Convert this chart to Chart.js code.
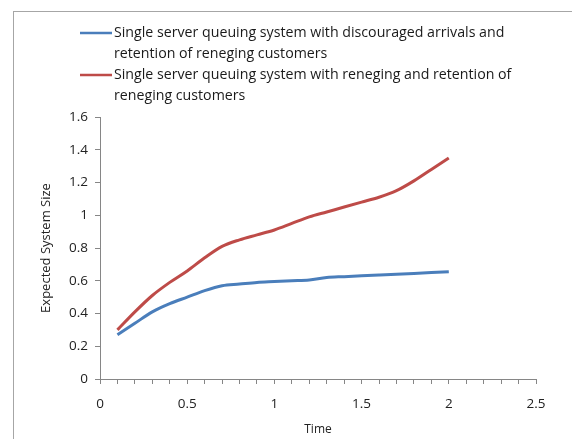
<!DOCTYPE html>
<html>
<head>
<meta charset="utf-8">
<script src="https://cdn.jsdelivr.net/npm/chart.js@4/dist/chart.umd.min.js"></script>
<style>
  html, body { margin: 0; padding: 0; background: #fff; }
  #wrap { width: 572px; height: 439px; }
</style>
</head>
<body>
<div id="wrap"><canvas id="sizeChart"></canvas></div>
<script>
const times = [0.1, 0.2, 0.3, 0.4, 0.5, 0.6, 0.7, 0.8, 0.9, 1.0,
  1.1, 1.2, 1.3, 1.4, 1.5, 1.6, 1.7, 1.8, 1.9, 2.0];

// expected system size, discouraged arrivals + retention of reneging customers
const discouragedSize = [0.27, 0.34, 0.41, 0.46, 0.50, 0.54, 0.57, 0.58, 0.59, 0.595,
  0.60, 0.605, 0.62, 0.625, 0.63, 0.635, 0.64, 0.645, 0.65, 0.655];

// expected system size, reneging + retention of reneging customers
const renegingSize = [0.30, 0.41, 0.51, 0.59, 0.66, 0.74, 0.81, 0.85, 0.88, 0.91,
  0.95, 0.99, 1.02, 1.05, 1.08, 1.11, 1.15, 1.21, 1.28, 1.35];

const seriesNames = [
  ['Single server queuing system with discouraged arrivals and', 'retention of reneging customers'],
  ['Single server queuing system with reneging and retention of', 'reneging customers']
];

const xLabels = [0, 0.5, 1, 1.5, 2, 2.5];

const axisGray = '#868686';
const font = '"Open Sans", Lato, sans-serif';

const toPoints = (ys) => ys.map((y, i) => ({ x: times[i], y: y }));

// white background plus the thin frame round the chart area
const frame = {
  id: 'frame',
  beforeDraw(chart) {
    const ctx = chart.ctx;
    ctx.save();
    ctx.fillStyle = '#fff';
    ctx.fillRect(0, 0, chart.width, chart.height);
    ctx.strokeStyle = '#a6a6a6';
    ctx.lineWidth = 1;
    ctx.strokeRect(13.5, 11.5, chart.width + 20, chart.height + 20);
    ctx.restore();
  }
};

// legend with wrapped two-line entries
const wrappedLegend = {
  id: 'wrappedLegend',
  afterDraw(chart) {
    const ctx = chart.ctx;
    ctx.save();
    ctx.font = '14.2px ' + font;
    ctx.textBaseline = 'middle';
    ctx.fillStyle = '#1a1a1a';
    let y = 33;
    chart.data.datasets.forEach(ds => {
      ctx.strokeStyle = ds.borderColor;
      ctx.lineWidth = 2.5;
      ctx.beginPath();
      ctx.moveTo(80, y);
      ctx.lineTo(112, y);
      ctx.stroke();
      ds.legendLines.forEach((line, i) => ctx.fillText(line, 114, y + i * 21));
      y += 42;
    });
    ctx.restore();
  }
};

new Chart(document.getElementById('sizeChart'), {
  type: 'line',
  data: {
    datasets: [
      {
        label: seriesNames[0].join(' '),
        legendLines: seriesNames[0],
        data: toPoints(discouragedSize),
        borderColor: '#4a7ebb',
        borderWidth: 3,
        pointRadius: 0,
        cubicInterpolationMode: 'monotone'
      },
      {
        label: seriesNames[1].join(' '),
        legendLines: seriesNames[1],
        data: toPoints(renegingSize),
        borderColor: '#be4b48',
        borderWidth: 3,
        pointRadius: 0,
        cubicInterpolationMode: 'monotone'
      }
    ]
  },
  options: {
    responsive: true,
    maintainAspectRatio: false,
    animation: false,
    layout: { padding: { top: 117, right: 36, bottom: 2, left: 37 } },
    plugins: {
      legend: { display: false },
      tooltip: { enabled: false }
    },
    scales: {
      x: {
        type: 'linear',
        min: 0,
        max: 2.5,
        border: { color: axisGray, width: 1 },
        grid: { drawOnChartArea: false, color: axisGray, tickLength: 5 },
        ticks: {
          stepSize: 0.1,
          autoSkip: false,
          maxRotation: 0,
          color: '#222',
          font: { family: font, size: 13.5 },
          padding: 12,
          callback: (v) => {
            const hit = xLabels.find(l => Math.abs(l - v) < 1e-6);
            return hit === undefined ? '' : String(hit);
          }
        },
        title: {
          display: true,
          text: 'Time',
          color: '#222',
          font: { family: font, size: 12 },
          padding: { top: 3, bottom: 0 }
        },
        afterFit: (scale) => { scale.height = 58; }
      },
      y: {
        min: 0,
        max: 1.6,
        border: { color: axisGray, width: 1 },
        grid: { drawOnChartArea: false, color: axisGray, tickLength: 5 },
        ticks: {
          stepSize: 0.2,
          color: '#222',
          font: { family: font, size: 13.5 },
          padding: 7,
          callback: (v) => String(Math.round(v * 10) / 10)
        },
        title: {
          display: true,
          text: 'Expected System Size',
          color: '#222',
          font: { family: font, size: 13 },
          padding: { top: 1, bottom: 0 }
        },
        afterFit: (scale) => { scale.width = 63; }
      }
    }
  },
  plugins: [frame, wrappedLegend]
});
</script>
</body>
</html>
